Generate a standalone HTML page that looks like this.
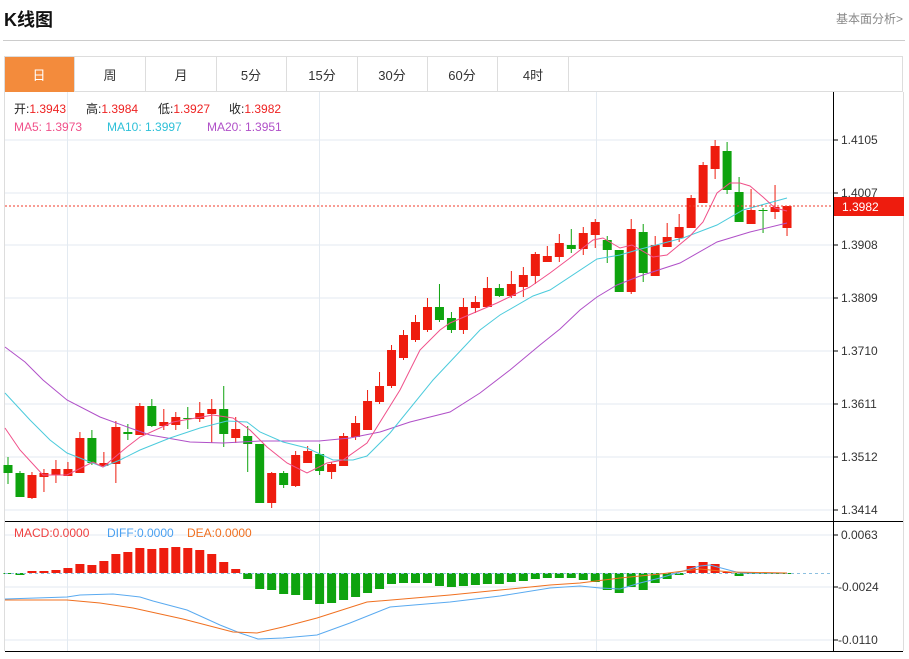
<!DOCTYPE html>
<html><head><meta charset="utf-8"><style>
body{margin:0;background:#fff;width:909px;height:654px;overflow:hidden;font-family:"Liberation Sans","Noto Sans CJK SC",sans-serif}
</style></head><body>
<svg id="s" width="909" height="654" xmlns="http://www.w3.org/2000/svg" font-family="Liberation Sans, Noto Sans CJK SC, sans-serif">
<text x="4" y="26" font-size="18" font-weight="bold" fill="#111">K线图</text>
<text x="836" y="23" font-size="12" fill="#888">基本面分析&gt;</text>
<line x1="3" y1="40.5" x2="905" y2="40.5" stroke="#ccc"/>
<rect x="4.5" y="56.5" width="898" height="35" fill="#fff" stroke="#ddd"/>
<rect x="5" y="57" width="69" height="35" fill="#f38b3c"/>
<g stroke="#ddd"><line x1="74.5" y1="57" x2="74.5" y2="92"/><line x1="145.5" y1="57" x2="145.5" y2="92"/><line x1="216.5" y1="57" x2="216.5" y2="92"/><line x1="286.5" y1="57" x2="286.5" y2="92"/><line x1="357.5" y1="57" x2="357.5" y2="92"/><line x1="427.5" y1="57" x2="427.5" y2="92"/><line x1="497.5" y1="57" x2="497.5" y2="92"/><line x1="568.5" y1="57" x2="568.5" y2="92"/></g>
<g font-size="13" text-anchor="middle" fill="#333"><text x="39" y="80" fill="#fff">日</text><text x="110" y="80">周</text><text x="181" y="80">月</text><text x="251" y="80">5分</text><text x="322" y="80">15分</text><text x="392" y="80">30分</text><text x="462" y="80">60分</text><text x="533" y="80">4时</text></g>
<line x1="4.5" y1="92" x2="4.5" y2="651" stroke="#ddd"/>
<line x1="903.5" y1="92" x2="903.5" y2="651" stroke="#ddd"/>
<g stroke="#e3eaf1"><line x1="5" y1="140" x2="833" y2="140"/><line x1="5" y1="193" x2="833" y2="193"/><line x1="5" y1="245" x2="833" y2="245"/><line x1="5" y1="298" x2="833" y2="298"/><line x1="5" y1="351" x2="833" y2="351"/><line x1="5" y1="404" x2="833" y2="404"/><line x1="5" y1="457" x2="833" y2="457"/><line x1="5" y1="510" x2="833" y2="510"/>
<line x1="5" y1="535" x2="833" y2="535"/><line x1="5" y1="587" x2="833" y2="587"/><line x1="5" y1="640" x2="833" y2="640"/>
<line x1="67.5" y1="92" x2="67.5" y2="651"/><line x1="319.5" y1="92" x2="319.5" y2="651"/><line x1="596.5" y1="92" x2="596.5" y2="651"/></g>
<g id="c"></g>
<line x1="5" y1="521.5" x2="903" y2="521.5" stroke="#000"/>
<line x1="5" y1="651.5" x2="903" y2="651.5" stroke="#000"/>
<line x1="833.5" y1="92" x2="833.5" y2="651" stroke="#000"/>
<g stroke="#000"><line x1="833" y1="140" x2="838" y2="140"/><line x1="833" y1="193" x2="838" y2="193"/><line x1="833" y1="245" x2="838" y2="245"/><line x1="833" y1="298" x2="838" y2="298"/><line x1="833" y1="351" x2="838" y2="351"/><line x1="833" y1="404" x2="838" y2="404"/><line x1="833" y1="457" x2="838" y2="457"/><line x1="833" y1="510" x2="838" y2="510"/><line x1="833" y1="535" x2="838" y2="535"/><line x1="833" y1="587" x2="838" y2="587"/><line x1="833" y1="640" x2="838" y2="640"/></g>
<g font-size="12" fill="#333"><text x="841" y="144">1.4105</text><text x="841" y="197">1.4007</text><text x="841" y="249">1.3908</text><text x="841" y="302">1.3809</text><text x="841" y="355">1.3710</text><text x="841" y="408">1.3611</text><text x="841" y="461">1.3512</text><text x="841" y="514">1.3414</text><text x="841" y="539">0.0063</text><text x="838" y="591">-0.0024</text><text x="838" y="644">-0.0110</text></g>
<line x1="5" y1="206" x2="833" y2="206" stroke="#f03a2a" stroke-dasharray="2,2"/>
<rect x="834" y="197" width="70" height="19" fill="#ee1c0e"/>
<text x="842" y="211" font-size="12" fill="#fff">1.3982</text>
<g font-size="12">
<text x="14" y="113" fill="#222">开:<tspan fill="#ee2222">1.3943</tspan></text>
<text x="86" y="113" fill="#222">高:<tspan fill="#ee2222">1.3984</tspan></text>
<text x="158" y="113" fill="#222">低:<tspan fill="#ee2222">1.3927</tspan></text>
<text x="229" y="113" fill="#222">收:<tspan fill="#ee2222">1.3982</tspan></text>
<text x="14" y="131" fill="#f0508a">MA5: 1.3973</text>
<text x="107" y="131" fill="#2ec0d8">MA10: 1.3997</text>
<text x="207" y="131" fill="#b050c8">MA20: 1.3951</text>
<text x="14" y="537" fill="#f04040">MACD:0.0000</text>
<text x="107" y="537" fill="#4aa0f0">DIFF:0.0000</text>
<text x="187" y="537" fill="#f07020">DEA:0.0000</text></g>
</svg>
<script>
var C=[[465,473,457,484],[473,497,471,497],[498,475,472,499],[477,473,469,492],[475,469,460,483],[476,469,462,476],[473,438,432,473],[438,463,430,465],[466,463,452,467],[464,427,421,483],[432,434,424,440],[435,406,403,435],[406,426,399,427],[426,422,409,430],[425,417,412,430],[418,419,407,429],[419,413,402,422],[414,409,399,443],[409,434,386,447],[438,429,417,443],[436,444,426,472],[444,503,444,503],[503,473,472,508],[473,485,471,488],[486,455,451,487],[463,451,446,463],[454,471,444,475],[472,464,462,479],[466,436,433,466],[437,423,416,440],[430,401,390,430],[402,386,372,404],[386,350,345,388],[358,335,330,360],[340,322,315,342],[330,307,298,332],[307,320,284,322],[318,330,312,333],[330,307,298,334],[308,302,296,313],[307,288,277,307],[288,296,284,297],[296,284,271,298],[287,275,267,297],[276,254,252,284],[262,256,246,262],[257,243,234,262],[245,249,229,253],[249,233,227,255],[235,222,219,248],[240,250,236,263],[250,292,250,292],[292,229,219,294],[232,273,224,282],[276,245,236,276],[247,237,223,247],[238,227,214,242],[228,198,195,228],[203,165,162,203],[169,146,140,179],[151,190,142,194],[192,222,177,222],[224,210,189,224],[210,211,208,233],[212,207,185,219],[228,206,206,236]];
var M=[574,575,571,571,570,568,564,565,561,554,552,548,549,548,547,548,550,554,562,569,579,589,590,594,595,600,604,603,600,597,593,589,584,583,583,583,586,587,586,585,584,584,582,581,579,578,578,578,580,582,590,593,587,590,583,579,575,566,562,564,572,576,574,573,573,573];
var h='',R='#ee1c0e',G='#0ea30e';
C.forEach(function(c,i){var x=8+i*11.985,col=c[1]<c[0]?R:G,t=Math.min(c[0],c[1]),b=Math.max(c[0],c[1]);
h+='<line x1="'+x+'" y1="'+c[2]+'" x2="'+x+'" y2="'+c[3]+'" stroke="'+col+'"/>';
h+='<rect x="'+(x-4.5)+'" y="'+t+'" width="9" height="'+Math.max(1,b-t)+'" fill="'+col+'"/>';
var m=M[i];h+='<rect x="'+(x-4.5)+'" y="'+Math.min(m,573)+'" width="9" height="'+Math.max(1,Math.abs(m-573))+'" fill="'+(m<573?R:G)+'"/>';});
h+='<line x1="5" y1="573.5" x2="833" y2="573.5" stroke="#8cc0e0" stroke-dasharray="3,3"/>';
function P(p,c,w){h+='<polyline fill="none" stroke="'+c+'" stroke-width="'+(w||1)+'" points="'+p+'"/>';}
P("5,347 25,362 43,380 67,400 100,417 130,428 150,435 190,442 223,443 260,441 300,441 319,441 350,438 380,432 410,422 450,412 480,393 510,370 540,345 560,329 580,310 597,297 617,285 640,276 680,263 717,242 750,232 787,223","#b050c8");
P("5,393 30,420 50,440 67,453 90,462 103,467 120,460 140,450 170,438 200,428 227,421 247,422 260,432 283,442 307,448 333,460 353,460 367,456 390,433 433,380 480,330 500,315 533,296 550,290 597,259 620,255 637,250 683,238 717,225 743,210 787,198","#4ccbdc");
P("5,428 20,450 43,475 67,475 93,462 103,467 127,447 140,437 173,422 213,415 233,418 250,430 267,447 287,463 307,473 327,463 343,460 367,443 400,390 420,350 440,330 450,323 497,303 530,287 550,273 570,258 593,240 603,238 620,248 632,245 653,257 667,255 690,236 703,222 717,193 730,183 740,183 750,186 763,197 775,208 787,211","#f0508a");
P("5,599 67,597 80,595 113,594 140,597 153,601 187,610 220,625 240,633 258,639 283,638 317,635 350,623 390,607 450,602 500,596 550,588 580,586 600,588 620,589 640,583 660,578 680,572 700,566 710,565 725,569 740,573 787,573","#5aaaf0");
P("5,600 67,600 100,603 133,608 183,619 233,632 257,633 283,627 317,618 367,602 450,595 500,590 550,585 580,583 620,578 660,574 700,569 730,572 787,573","#f07020");
document.getElementById('c').innerHTML=h;
</script>
</body></html>
